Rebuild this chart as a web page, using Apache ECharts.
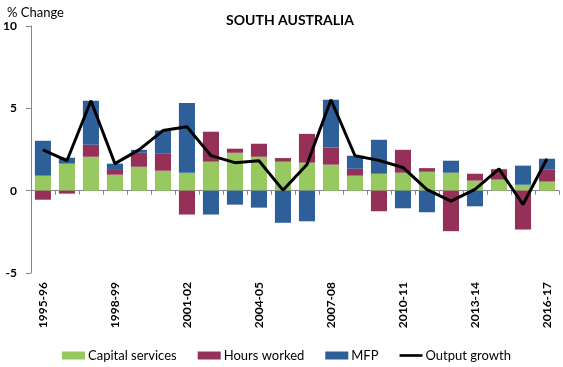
<!DOCTYPE html>
<html><head><meta charset="utf-8">
<script src="https://cdn.jsdelivr.net/npm/echarts@6/dist/echarts.min.js"></script>
<style>html,body{margin:0;padding:0;background:#fff}#c{width:563px;height:367px}</style>
</head><body><div id="c"></div>
<script>
var categories = ['1995-96','1996-97','1997-98','1998-99','1999-00','2000-01','2001-02','2002-03','2003-04','2004-05','2005-06','2006-07','2007-08','2008-09','2009-10','2010-11','2011-12','2012-13','2013-14','2014-15','2015-16','2016-17'];
var capitalServices = [0.91,1.64,2.06,0.97,1.45,1.21,1.09,1.76,2.30,2.06,1.76,1.70,1.58,0.91,1.03,1.09,1.15,1.09,0.61,0.67,0.36,0.55];
var hoursWorked = [-0.55,-0.18,0.73,0.34,0.85,1.03,-1.45,1.82,0.25,0.79,0.22,1.75,1.04,0.42,-1.25,1.39,0.22,-2.46,0.42,0.60,-2.36,0.72];
var mfp = [2.12,0.36,2.67,0.33,0.18,1.41,4.24,-1.45,-0.85,-1.03,-1.95,-1.86,2.90,0.79,2.06,-1.07,-1.31,0.73,-0.95,0.05,1.16,0.67];
var outputGrowth = [2.48,1.82,5.46,1.64,2.48,3.65,3.88,2.13,1.70,1.82,0.03,1.59,5.52,2.12,1.84,1.41,0.06,-0.64,0.08,1.32,-0.84,1.94];
var yTicks = {min:-5, max:10, interval:5};

var FONT = 'Lato';
var chart = echarts.init(document.getElementById('c'), null, {renderer:'canvas'});
chart.setOption({
  animation:false,
  textStyle:{fontFamily:FONT},
  title:[
    {text:'SOUTH AUSTRALIA', left:285, top:8, textAlign:'center', textStyle:{fontFamily:FONT, fontSize:14, fontWeight:'bold', color:'#000'}},
    {text:'% Change', left:2, top:1, textStyle:{fontFamily:FONT, fontSize:13, fontWeight:'normal', color:'#000'}}
  ],
  legend:{
    bottom:5, left:62, padding:0, itemWidth:23, itemHeight:8, itemGap:21,
    textStyle:{fontFamily:FONT, fontSize:13, color:'#000', padding:[0,0,0,-2]},
    data:[
      {name:'Capital services', icon:'rect'},
      {name:'Hours worked', icon:'rect'},
      {name:'MFP', icon:'rect'},
      {name:'Output growth', icon:'path://M0,0L26,0L26,3L0,3Z', itemStyle:{color:'#000'}}
    ]
  },
  grid:{left:30, right:4, top:26, bottom:94, containLabel:false},
  xAxis:[
    {type:'category', data:categories, position:'bottom',
     axisLine:{show:false, onZero:false}, axisTick:{show:false},
     axisLabel:{rotate:90, interval:2, margin:9, fontFamily:FONT, fontSize:12, fontWeight:'bold', color:'#000'}},
    {type:'category', data:categories, position:'bottom',
     axisLine:{show:true, onZero:true, lineStyle:{color:'#868686', width:1}},
     axisTick:{show:true, interval:0, length:4, lineStyle:{color:'#868686'}},
     axisLabel:{show:false}}
  ],
  yAxis:{type:'value', min:yTicks.min, max:yTicks.max, interval:yTicks.interval,
    axisLine:{show:true, lineStyle:{color:'#868686'}},
    axisTick:{show:true, length:5, lineStyle:{color:'#868686'}},
    splitLine:{show:false},
    axisLabel:{margin:14, fontFamily:FONT, fontSize:12, fontWeight:'bold', color:'#000'}},
  series:[
    {name:'Capital services', type:'bar', stack:'a', data:capitalServices, barCategoryGap:'33%', itemStyle:{color:'#98C860'}},
    {name:'Hours worked', type:'bar', stack:'a', data:hoursWorked, itemStyle:{color:'#953159'}},
    {name:'MFP', type:'bar', stack:'a', data:mfp, itemStyle:{color:'#2F5F98'}},
    {name:'Output growth', type:'line', data:outputGrowth, symbol:'none', lineStyle:{color:'#000', width:3}, itemStyle:{color:'#000'}, z:5}
  ]
});
</script></body></html>
